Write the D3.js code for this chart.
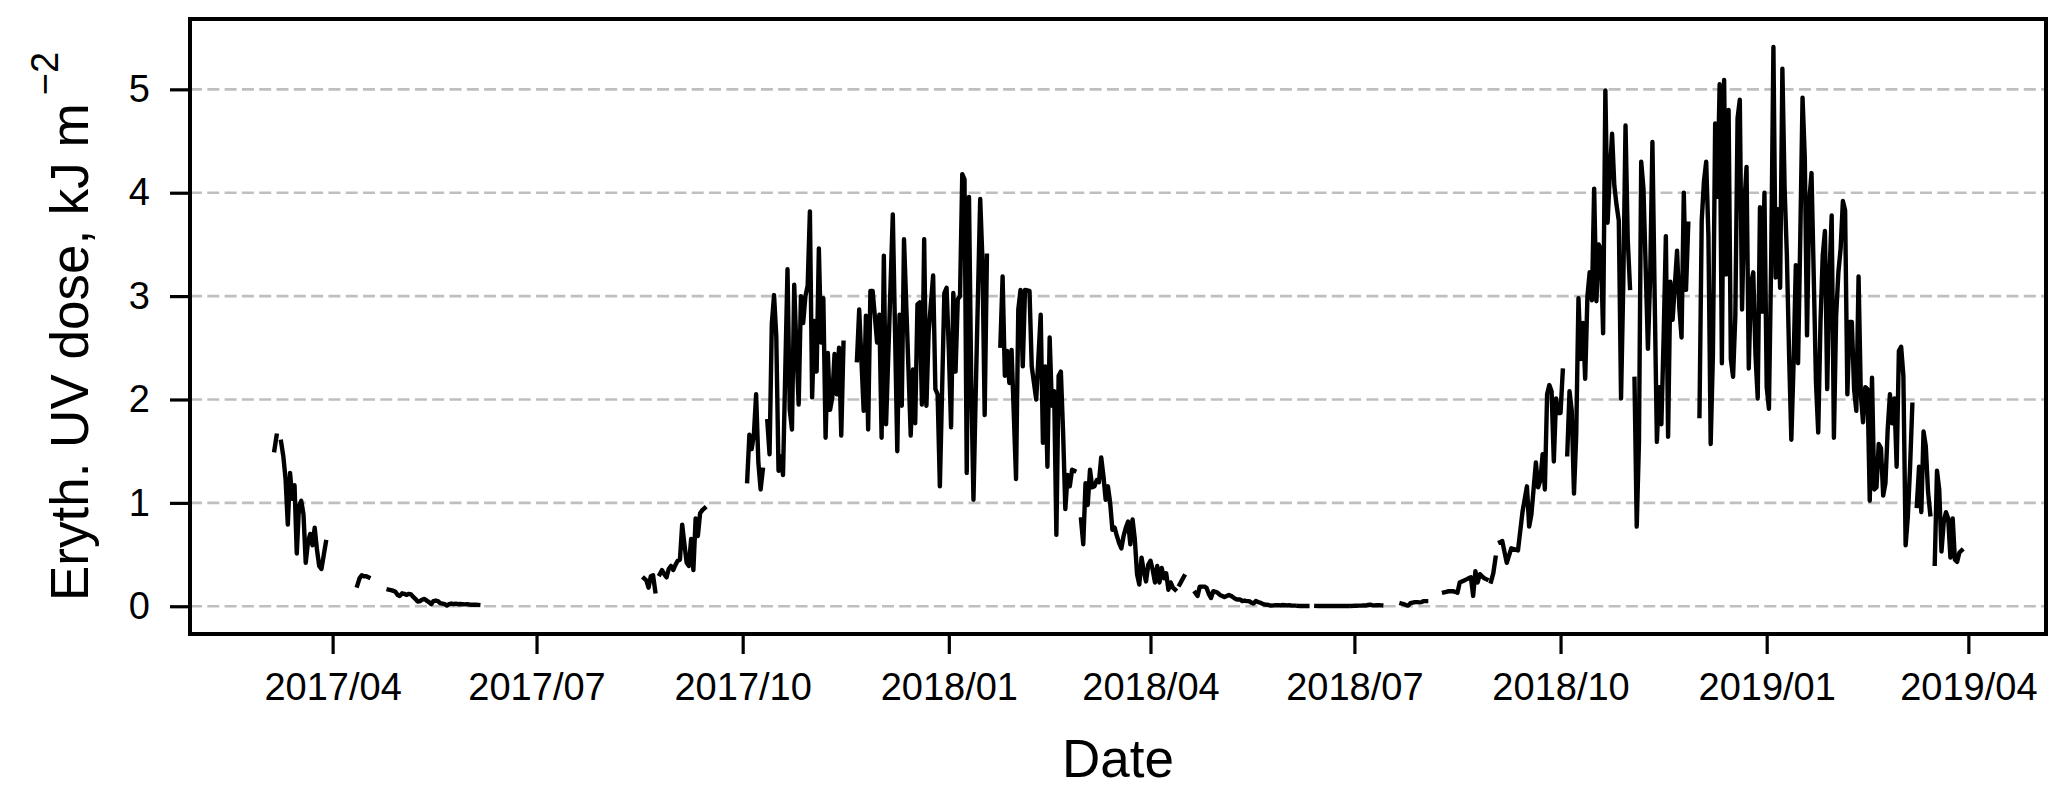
<!DOCTYPE html>
<html><head><meta charset="utf-8">
<script src="https://cdn.jsdelivr.net/npm/d3@7"></script>
<style>
body{margin:0;background:#fff;}
text{font-family:"Liberation Sans",Arial,Helvetica,sans-serif;fill:#000;}
</style>
</head><body>
<svg id="chart" width="2067" height="795"></svg>
<script>
// ---------------- DATA ----------------
// Day offsets from each season's start date; null marks a gap in the record.
const spring2017Start = "2017-03-01";
const spring2017Day = [5,6,7,8,9,10,11,12,13,14,15,16,17,18,19,20,21,22,23,24,25,26,27,28,29,
  42,43,44,45,46,47,48,
  56,57,58,59,60,61,62,63,64,65,66,67,68,69,70,71,72,73,74,75,76,77,78,79,80,81,82,83,84,85,86,87,88,89,90,91,92,93,94,95,96,97,
  170,171,172,173,174,175,176,177,178,179,180,181,182,183,184,185,186,187,188,189,190,191,192,193,194,195,196,197,198];
const spring2017UV = [1.51,1.65,null,1.59,1.45,1.23,0.79,1.29,1.04,1.17,0.51,0.97,1.02,0.89,0.42,0.62,0.70,0.59,0.76,0.55,0.39,0.36,0.49,0.62,null,
  0.20,0.27,0.30,0.29,0.29,0.28,null,
  0.16,0.155,0.15,0.14,0.11,0.10,0.125,0.12,0.11,0.12,0.115,0.09,0.07,0.045,0.05,0.065,0.07,0.055,0.04,0.02,0.05,0.055,0.05,0.03,0.025,0.02,0.006,0.02,0.026,0.02,0.025,0.02,0.022,0.02,0.018,0.02,0.017,0.015,0.016,0.015,0.013,null,
  0.27,0.25,0.18,0.29,0.30,0.145,null,0.31,0.35,0.31,0.28,0.36,0.39,0.35,0.40,0.44,0.45,0.79,0.60,0.42,0.39,0.65,0.35,0.85,0.68,0.90,0.93,0.95,null];

const season1718Start = "2017-10-01";
const season1718Day = [2,3,4,5,6,7,8,9,10,11,12,13,14,15,16,17,18,20,21,22,23,24,25,26,27,28,29,30,31,32,33,34,35,36,37,38,39,40,41,42,43,44,45,46,
  51,52,54,55,56,57,58,60,61,62,63,64,67,69,70,71,72,75,76,77,78,79,80,81,82,83,85,86,87,88,90,91,92,93,94,95,96,97,98,99,100,101,102,103,104,106,107,108,109,110,
  115,116,117,118,119,120,122,123,124,125,126,128,129,130,131,133,134,135,136,137,138,139,140,141,142,143,144,145,146,147,148,149,
  151,152,153,154,155,156,157,158,159,160,161,162,163,164,165,166,167,168,169,170,171,172,173,174,175,176,177,178,179,180,181,182,183,184,185,186,187,188,189,190,191,192,193,194,
  195,196,197,198,
  202,203,204,205,206,207,208,209,210,211,212,213,214,215,216,217,218,219,220,221,222,223,224,225,226,227,228,229,230,231,232,233,234,235,236,237,238,239,240,241,242,243,244,245,246,247,
  248,249,250,251,252,253,
  256,257,258,259,260,261,262,263,264,265,266,267,268,269,270,271,
  272,273,274,275,276,277,278,279,280,281,282,283,284,285,286,
  294,295,296,297,298,299,300,301,302,303,304,305,306,
  313,314,315,316,317,318,319,320,321,322,323,324,325,326,327,328,329,330,331,332,333,
  334,335,336,337];
const season1718UV = [1.21,1.66,1.52,1.66,2.05,1.39,1.13,1.32,null,1.79,1.47,2.73,3.01,2.61,1.31,1.45,1.27,
  3.26,1.90,1.71,3.11,2.48,1.95,3.00,2.74,3.00,3.10,3.82,2.02,2.76,2.27,3.46,2.55,2.98,1.63,2.45,1.90,2.02,2.44,2.05,2.50,1.65,2.55,null,
  2.38,2.87,1.89,2.81,1.71,3.05,3.05,2.55,2.82,1.63,3.39,1.76,3.79,1.50,2.82,1.94,3.55,1.65,2.29,1.77,2.92,2.94,1.95,3.55,1.94,2.65,3.20,2.10,2.05,1.16,3.03,3.08,2.48,1.73,3.03,2.27,2.97,3.00,4.18,4.13,1.29,3.96,2.16,1.03,2.06,3.94,3.35,1.85,3.39,null,
  2.52,3.19,2.23,2.47,2.16,2.48,1.23,2.87,3.06,2.32,3.06,3.05,2.32,2.16,2.00,2.82,1.58,2.32,1.35,2.60,1.94,2.08,0.69,2.23,2.27,1.68,0.94,1.27,1.16,1.32,1.31,null,
  0.84,0.60,1.19,0.98,1.32,1.15,1.16,1.22,1.20,1.44,1.26,1.03,1.16,1.00,0.74,0.76,0.68,0.61,0.56,0.68,0.76,0.82,0.60,0.84,0.65,0.31,0.21,0.47,0.34,0.24,0.40,0.44,0.35,0.23,0.39,0.23,0.37,0.27,0.32,0.16,0.23,0.18,0.16,null,
  0.21,0.25,0.29,null,
  0.13,0.10,0.19,0.19,0.19,0.18,0.12,0.08,0.145,0.14,0.13,0.11,0.10,0.09,0.10,0.11,0.10,0.085,0.07,0.065,0.065,0.05,0.055,0.05,0.05,0.035,0.026,0.05,0.04,0.035,0.025,0.016,0.015,0.01,0.006,0.008,0.01,0.01,0.008,0.012,0.01,0.008,0.01,0.006,0.006,null,
  0.004,0.003,0.004,0.003,0.003,null,
  0.003,0.002,0.003,0.002,0.003,0.004,0.003,0.002,0.003,0.003,0.002,0.003,0.004,0.003,0.003,null,
  0.004,0.005,0.005,0.006,0.006,0.008,0.007,0.012,0.015,0.010,0.008,0.010,0.009,0.008,null,
  0.026,0.02,0.012,0.006,0.03,0.035,0.04,0.04,0.038,0.04,0.05,0.05,null,
  0.135,0.14,0.145,0.145,0.145,0.14,0.13,0.23,0.24,0.25,0.26,0.27,0.28,0.10,0.34,0.23,0.31,0.29,0.27,0.26,null,
  0.24,0.32,0.47,null];

const season1819Start = "2018-10-01";
const season1819Day = [-27,-26,-24,-22,-19,-17,-15,-14,-13,-11,-10,-9,-8,-7,-6,-5,-4,-3,-2,-1,0,1,2,
  3,4,5,6,7,8,9,10,11,12,13,14,15,16,17,18,19,20,21,22,23,24,25,26,27,28,29,30,31,32,
  33,34,35,36,37,38,39,40,41,42,43,44,45,46,47,48,49,50,51,52,53,54,55,56,57,58,
  62,63,64,65,66,67,68,69,70,71,72,73,74,75,76,77,78,79,80,81,82,83,84,85,86,87,88,89,90,91,92,93,94,95,96,97,98,99,100,101,102,103,104,105,106,107,108,109,110,111,112,113,114,115,116,117,118,119,120,121,122,123,124,125,126,127,128,129,130,131,132,133,134,135,136,137,138,139,140,141,142,143,144,145,146,147,148,149,150,151,152,153,154,155,156,157,158,
  159,160,161,162,163,164,165,166,
  167,168,169,170,171,172,173,174,175,176,177,178,179];
const season1819UV = [0.62,0.63,0.42,0.56,0.54,0.91,1.16,0.77,0.89,1.39,1.15,1.22,1.47,1.13,2.05,2.14,2.08,1.40,2.01,1.87,1.87,2.28,null,
  1.47,2.08,1.89,1.09,1.66,2.98,2.39,2.74,2.20,3.00,3.23,2.96,4.04,2.95,3.50,3.45,2.64,4.99,3.71,4.19,4.57,4.07,3.88,3.73,2.01,3.12,4.65,3.54,3.08,null,
  2.20,0.77,1.59,4.30,4.04,3.27,2.49,3.19,4.49,3.00,1.59,2.12,1.76,2.60,3.58,1.64,3.14,2.77,3.10,3.44,2.89,2.60,4.00,3.06,3.70,null,
  1.84,3.73,4.11,4.30,3.58,1.57,2.43,4.67,3.96,5.05,
  2.35,5.09,3.21,4.80,2.39,2.22,2.81,4.72,4.90,2.87,
  3.88,4.25,2.30,3.12,3.23,2.43,2.01,3.86,2.85,4.00,
  2.12,1.91,3.35,5.41,3.18,3.84,3.08,5.20,4.04,3.40,
  2.43,1.61,2.35,3.30,2.35,3.58,4.92,4.34,2.62,3.92,
  4.19,3.19,2.16,1.68,2.74,3.39,3.63,2.10,3.19,3.78,
  1.63,2.81,3.23,3.46,3.92,3.83,2.05,2.75,2.75,2.10,
  1.89,3.19,2.05,1.78,2.12,2.10,1.02,2.21,1.13,1.15,
  1.57,1.53,1.07,1.19,1.71,2.05,1.77,2.01,1.35,2.47,
  2.51,2.23,0.59,0.87,1.35,1.95,null,
  0.97,1.35,0.91,1.69,1.55,1.11,0.89,null,
  0.41,1.31,1.13,0.53,0.81,0.91,0.85,0.47,0.85,0.45,0.43,0.52,0.54];

const yTicks = [0,1,2,3,4,5];
const xTickDates = ["2017-04-01","2017-07-01","2017-10-01","2018-01-01","2018-04-01","2018-07-01","2018-10-01","2019-01-01","2019-04-01"];
const xTickLabels = ["2017/04","2017/07","2017/10","2018/01","2018/04","2018/07","2018/10","2019/01","2019/04"];

// ---------------- BUILD ----------------
const parse = d3.utcParse("%Y-%m-%d");
function build(start, days, vals){
  const s = parse(start);
  return days.map((d,i)=>({date: d3.utcDay.offset(s, d), uv: vals[i]}));
}
const points = [].concat(
  build(spring2017Start, spring2017Day, spring2017UV),
  build(season1718Start, season1718Day, season1718UV),
  build(season1819Start, season1819Day, season1819UV)
);
const valid = points.filter(p => p.uv != null);

const plot = {left:190, right:2046, top:19, bottom:634};

const [t0, t1] = d3.extent(valid, d => d.date);
const tPad = (t1 - t0) * 0.05;
const x = d3.scaleUtc().domain([new Date(+t0 - tPad), new Date(+t1 + tPad)]).range([plot.left, plot.right]);
const [v0, v1] = d3.extent(valid, d => d.uv);
const vPad = (v1 - v0) * 0.05;
const y = d3.scaleLinear().domain([v0 - vPad, v1 + vPad]).range([plot.bottom, plot.top]);

const svg = d3.select("#chart");

// grid
svg.append("g").selectAll("line").data(yTicks).join("line")
  .attr("x1", plot.left).attr("x2", plot.right)
  .attr("y1", d => y(d)).attr("y2", d => y(d))
  .attr("stroke", "#bfbfbf").attr("stroke-width", 2.6).attr("stroke-dasharray", "12,5.3");

// line
const line = d3.line().defined(d => d.uv != null).x(d => x(d.date)).y(d => y(d.uv));
svg.append("path").datum(points)
  .attr("d", line).attr("fill", "none").attr("stroke", "#000")
  .attr("stroke-width", 4.4).attr("stroke-linejoin", "round").attr("stroke-linecap", "square");

// axes
const xAxis = d3.axisBottom(x).tickValues(xTickDates.map(parse))
  .tickFormat((d,i) => xTickLabels[i]).tickSize(20).tickPadding(19);
const gx = svg.append("g").attr("transform", `translate(0,${plot.bottom})`).call(xAxis);
const yAxis = d3.axisLeft(y).tickValues(yTicks).tickFormat(d3.format("d")).tickSize(20).tickPadding(20);
const gy = svg.append("g").attr("transform", `translate(${plot.left},0)`).call(yAxis);
[gx, gy].forEach(g => {
  g.select(".domain").remove();
  g.selectAll(".tick line").attr("stroke", "#000").attr("stroke-width", 3.2);
  g.selectAll(".tick text").attr("font-size", 38).attr("fill", "#000")
    .style("font-family", '"Liberation Sans",Arial,sans-serif');
});

// frame
svg.append("rect").attr("x", plot.left).attr("y", plot.top)
  .attr("width", plot.right - plot.left).attr("height", plot.bottom - plot.top)
  .attr("fill", "none").attr("stroke", "#000").attr("stroke-width", 4);

// axis labels
svg.append("text").attr("x", (plot.left + plot.right) / 2).attr("y", 777)
  .attr("text-anchor", "middle").attr("font-size", 53).text("Date");

const yl = svg.append("text")
  .attr("transform", `translate(88,${(plot.top + plot.bottom) / 2}) rotate(-90)`)
  .attr("text-anchor", "middle").attr("font-size", 53);
yl.append("tspan").text("Eryth. UV dose, kJ m");
yl.append("tspan").attr("font-size", 38).attr("dy", -30).attr("dx", 8).text("\u22122");
</script>
</body></html>
